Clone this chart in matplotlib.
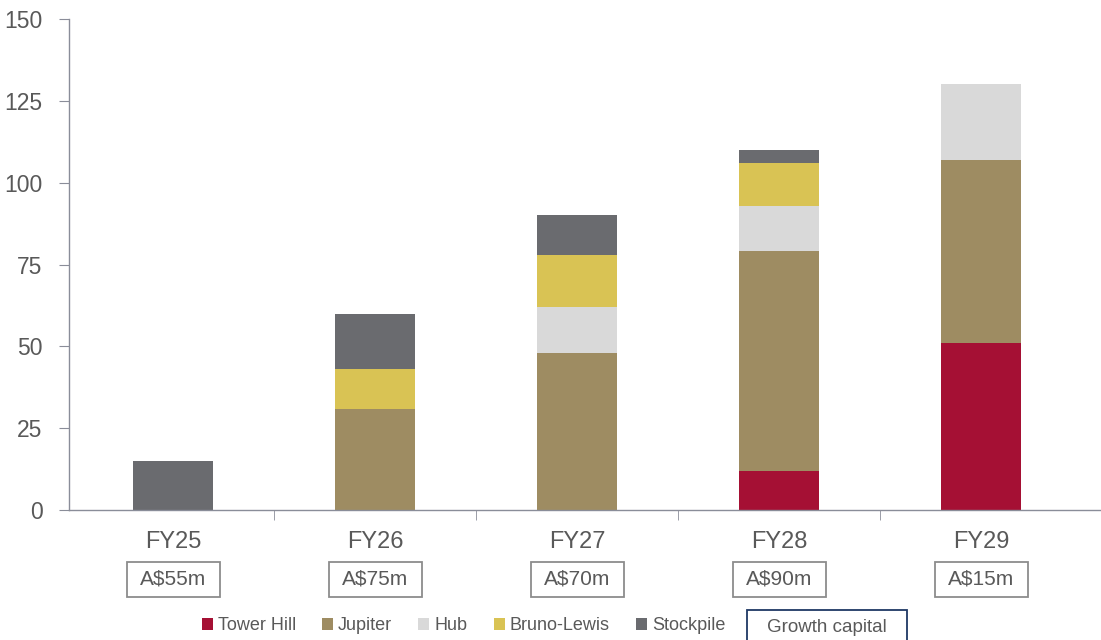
import matplotlib
matplotlib.use("Agg")
import matplotlib.pyplot as plt
from matplotlib.patches import Rectangle
import numpy as np

plt.rcParams['font.family'] = ['Liberation Sans', 'DejaVu Sans']

categories = ["FY25", "FY26", "FY27", "FY28", "FY29"]
capital_labels = ["A$55m", "A$75m", "A$70m", "A$90m", "A$15m"]
series_names = ["Tower Hill", "Jupiter", "Hub", "Bruno-Lewis", "Stockpile"]
tower_hill = [0, 0, 0, 12, 51]
jupiter = [0, 31, 48, 67, 56]
hub = [0, 0, 14, 14, 23]
bruno_lewis = [0, 12, 16, 13, 0]
stockpile = [15, 17, 12, 4, 0]
colors = ["#A51034", "#9E8C62", "#D9D9D9", "#D9C354", "#6A6B6F"]

W, H = 1101, 640
fig = plt.figure(figsize=(W / 100, H / 100), dpi=100)
ax_left, ax_right = 69, 1101
ax_top, ax_bot = 19, 510
ax = fig.add_axes([ax_left / W, 1 - ax_bot / H, (ax_right - ax_left) / W, (ax_bot - ax_top) / H])

x = np.arange(len(categories))
bottom = np.zeros(len(categories))
handles = []
for name, vals, c in zip(series_names, [tower_hill, jupiter, hub, bruno_lewis, stockpile], colors):
    b = ax.bar(x, vals, 0.4, bottom=bottom, color=c, label=name, linewidth=0)
    handles.append(b)
    bottom += np.array(vals)

ax.set_xlim(-0.515, 4.594)
ax.set_ylim(0, 150)
ax.set_yticks(np.arange(0, 151, 25))
spine_c = "#8A8D99"
text_c = "#595959"
for s in ["top", "right"]:
    ax.spines[s].set_visible(False)
for s in ["left", "bottom"]:
    ax.spines[s].set_color(spine_c)
    ax.spines[s].set_linewidth(1.0)
ax.tick_params(axis='y', direction='out', length=7, color=spine_c, labelsize=16.5, labelcolor=text_c, pad=12)
ax.set_xticks(x)
ax.set_xticklabels([])
ax.tick_params(axis='x', which='major', length=0)
ax.set_xticks(x[:-1] + 0.5, minor=True)
ax.tick_params(axis='x', which='minor', direction='out', length=7, color=spine_c)

# category labels and capital boxes
box_w, box_top, box_bot = 93, 562, 597
for i, (cat, cap) in enumerate(zip(categories, capital_labels)):
    xp = ax.transData.transform((i, 0))[0]
    fig.text(xp / W, 1 - 542 / H, cat, ha='center', va='center', fontsize=17, color=text_c)
    fig.patches.append(Rectangle(((xp - box_w / 2) / W, 1 - box_bot / H), box_w / W, (box_bot - box_top) / H,
                                 transform=fig.transFigure, facecolor='white', edgecolor='#8C8C8C',
                                 linewidth=1.3))
    fig.text(xp / W, 1 - 579.5 / H, cap, ha='center', va='center', fontsize=15, color=text_c)

leg = fig.legend(handles=handles, labels=series_names, loc='center', bbox_to_anchor=(463.5 / W, 1 - 626 / H),
                 ncol=5, frameon=False, fontsize=13, handlelength=0.61, handleheight=0.61,
                 handletextpad=0.28, columnspacing=1.45, labelcolor=text_c, borderpad=0, borderaxespad=0)

fig.patches.append(Rectangle((747 / W, 1 - 646 / H), 160 / W, 36 / H, transform=fig.transFigure,
                             facecolor='white', edgecolor='#1F3864', linewidth=1.3))
fig.text(827 / W, 1 - 627 / H, "Growth capital", ha='center', va='center', fontsize=13.5, color=text_c)

fig.savefig("out.png", dpi=100)
